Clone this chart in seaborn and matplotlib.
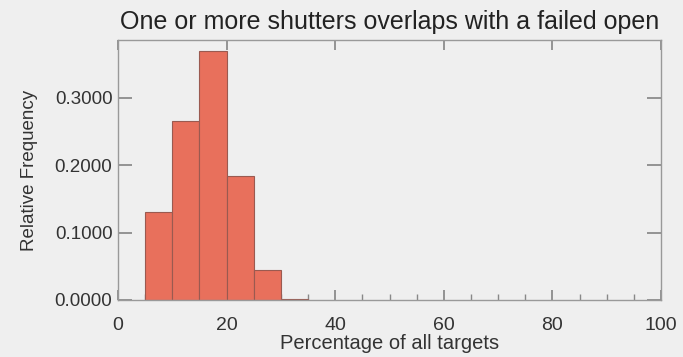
import matplotlib
matplotlib.use("Agg")
import matplotlib.pyplot as plt
import seaborn as sns
import numpy as np
from matplotlib.ticker import MultipleLocator, FormatStrFormatter

bin_edges = [5, 10, 15, 20, 25, 30, 35]
bin_centers = [7.5, 12.5, 17.5, 22.5, 27.5, 32.5]
rel_freq = [0.131, 0.266, 0.369, 0.184, 0.045, 0.002]

title = "One or more shutters overlaps with a failed open"
xlabel = "Percentage of all targets"
ylabel = "Relative Frequency"

sns.set_theme(style="white")
plt.rcParams['font.family'] = ['Liberation Sans', 'DejaVu Sans']
bg = "#efefef"
fig = plt.figure(figsize=(6.83, 3.57), dpi=100, facecolor=bg)
ax = fig.add_axes([118/683, 1-300/357, (661-118)/683, (300-40)/357])
ax.set_facecolor(bg)

sns.histplot(x=bin_centers, weights=rel_freq, bins=bin_edges, ax=ax,
             color="#e8705c", alpha=1.0, edgecolor="#9a5a50", linewidth=0.8)

ax.set_xlim(0, 100)
ax.set_ylim(0, 0.386)
ax.xaxis.set_major_locator(MultipleLocator(20))
ax.xaxis.set_minor_locator(MultipleLocator(5))
ax.yaxis.set_major_locator(MultipleLocator(0.1))
ax.yaxis.set_major_formatter(FormatStrFormatter('%.4f'))
ax.tick_params(axis='both', which='both', direction='in', colors='#888888',
               labelcolor='#333333')
ax.tick_params(axis='x', which='major', length=7, top=True, bottom=True, pad=12, labelsize=14)
ax.tick_params(axis='x', which='minor', length=4, top=False, bottom=True)
ax.tick_params(axis='y', which='major', length=10, left=True, right=True, pad=4, labelsize=13.5)
for s in ax.spines.values():
    s.set_color('#999999')
    s.set_linewidth(1.0)

ax.set_title(title, fontsize=18, color='#222222', pad=8)
ax.set_xlabel(xlabel, fontsize=14.5, color='#333333', labelpad=0)
ax.set_ylabel(ylabel, fontsize=13.5, color='#333333', labelpad=12)

fig.savefig("out.png", dpi=100, facecolor=bg)
